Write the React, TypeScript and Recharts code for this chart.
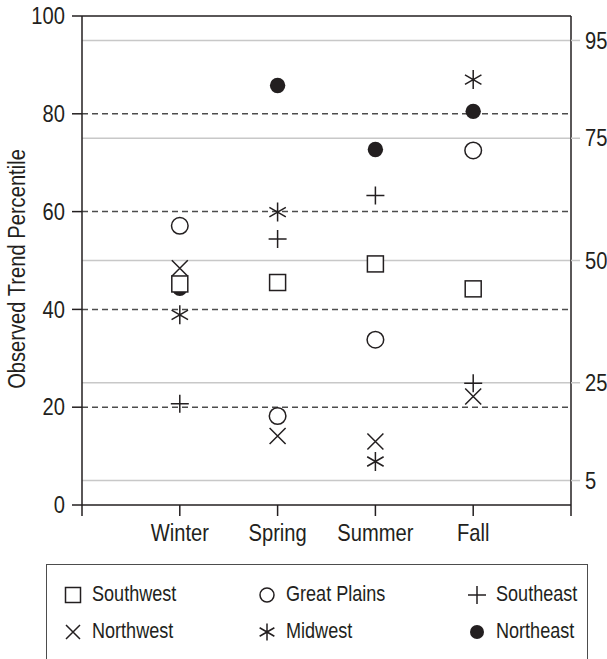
import React from "react"
import { ScatterChart, Scatter, XAxis, YAxis, ReferenceLine } from "recharts"

// seasons on the x axis (positions 1..4, axis runs 0..5)
const seasons = ["Winter", "Spring", "Summer", "Fall"]

// observed trend percentile per region, in season order
const southwest = [45.2, 45.5, 49.3, 44.2]
const greatPlains = [57.1, 18.2, 33.8, 72.5]
const southeast = [20.7, 54.4, 63.3, 24.9]
const northwest = [48.4, 14.1, 13.0, 22.2]
const midwest = [38.9, 59.9, 8.9, 87.0]
const northeast = [44.3, 85.8, 72.7, 80.5]

const leftTicks = [0, 20, 40, 60, 80, 100]
const dashedLevels = [20, 40, 60, 80]
const rightTicks = [5, 25, 50, 75, 95]

const INK = "#231f20"
const FONT = "'Liberation Sans', Arial, sans-serif"
// no narrow face installed, so squeeze the regular one
const NARROW = 0.84

type Kind = "square" | "circle" | "plus" | "x" | "asterisk" | "dot"

const Marker = ({ kind, cx, cy, s }: { kind: Kind; cx: number; cy: number; s: number }) => {
  const st = { stroke: INK, strokeWidth: 1.5, fill: "none" }
  switch (kind) {
    case "square":
      return <rect x={cx - s} y={cy - s} width={2 * s} height={2 * s} {...st} fill="#fff" />
    case "circle":
      return <circle cx={cx} cy={cy} r={s} {...st} />
    case "plus":
      return <path d={`M${cx - s},${cy}H${cx + s}M${cx},${cy - s}V${cy + s}`} {...st} />
    case "x":
      return <path d={`M${cx - s},${cy - s}L${cx + s},${cy + s}M${cx + s},${cy - s}L${cx - s},${cy + s}`} {...st} />
    case "asterisk": {
      const dx = s * Math.cos(Math.PI / 6)
      const dy = s * Math.sin(Math.PI / 6)
      return (
        <path
          d={`M${cx},${cy - s}V${cy + s}M${cx - dx},${cy - dy}L${cx + dx},${cy + dy}M${cx - dx},${cy + dy}L${cx + dx},${cy - dy}`}
          {...st}
        />
      )
    }
    case "dot":
      return <circle cx={cx} cy={cy} r={s} fill={INK} />
  }
  return null
}

// drawing order: southwest last so its white squares sit on top
const series: Array<{ name: string; values: number[]; kind: Kind; size: number; legendSize: number }> = [
  { name: "Northeast", values: northeast, kind: "dot", size: 7.7, legendSize: 7 },
  { name: "Northwest", values: northwest, kind: "x", size: 8, legendSize: 7 },
  { name: "Midwest", values: midwest, kind: "asterisk", size: 9.5, legendSize: 8.5 },
  { name: "Southeast", values: southeast, kind: "plus", size: 9, legendSize: 9 },
  { name: "Great Plains", values: greatPlains, kind: "circle", size: 8.3, legendSize: 7 },
  { name: "Southwest", values: southwest, kind: "square", size: 8, legendSize: 7.5 },
]

// legend layout: [name, column, row]
const legendOrder: Array<[string, number, number]> = [
  ["Southwest", 0, 0],
  ["Great Plains", 1, 0],
  ["Southeast", 2, 0],
  ["Northwest", 0, 1],
  ["Midwest", 1, 1],
  ["Northeast", 2, 1],
]
const colX = [73, 267, 477]
const rowY = [595, 632]

const NarrowText = ({ x, y, anchor, baseline, children }: any) => (
  <g transform={`translate(${x},${y})`}>
    <text
      transform={`scale(${NARROW},1)`}
      textAnchor={anchor}
      dominantBaseline={baseline}
      fill={INK}
      fontSize={24}
      fontFamily={FONT}
    >
      {children}
    </text>
  </g>
)

const XTick = (p: any) => (
  <NarrowText x={p.x} y={p.y + 17} anchor="middle" baseline="auto">
    {seasons[p.payload.value - 1] ?? ""}
  </NarrowText>
)
const LeftTick = (p: any) => (
  <NarrowText x={p.x} y={p.y} anchor="end" baseline="central">
    {p.payload.value}
  </NarrowText>
)
const RightTick = (p: any) => (
  <NarrowText x={p.x} y={p.y} anchor="start" baseline="central">
    {p.payload.value}
  </NarrowText>
)

export default function App() {
  const axisStroke = { stroke: INK, strokeWidth: 1.5 }

  return (
    <div style={{ position: "absolute", left: 0, top: 0, width: 607, height: 659, background: "#fff" }}>
      <ScatterChart width={607} height={550} margin={{ top: 16, right: 0, bottom: 0, left: 0 }}>
        <XAxis
          type="number"
          dataKey="x"
          domain={[0, 5]}
          ticks={[0, 1, 2, 3, 4, 5]}
          interval={0}
          height={45}
          axisLine={axisStroke}
          tickLine={axisStroke}
          tickSize={11}
          tickMargin={8}
          tick={XTick}
        />
        <YAxis
          yAxisId="left"
          type="number"
          dataKey="y"
          domain={[0, 100]}
          ticks={leftTicks}
          interval={0}
          width={82}
          axisLine={axisStroke}
          tickLine={axisStroke}
          tickSize={10}
          tickMargin={7}
          tick={LeftTick}
          label={{
            content: () => (
              <g transform="translate(17,269) rotate(-90)">
                <text
                  transform={`scale(${NARROW},1)`}
                  textAnchor="middle"
                  dominantBaseline="central"
                  fill={INK}
                  fontSize={24}
                  fontFamily={FONT}
                >
                  Observed Trend Percentile
                </text>
              </g>
            ),
          }}
        />
        <YAxis
          yAxisId="right"
          orientation="right"
          type="number"
          dataKey="y"
          domain={[0, 100]}
          allowDataOverflow
          ticks={rightTicks}
          interval={0}
          width={36}
          axisLine={axisStroke}
          tickLine={{ stroke: "#c8c8c8", strokeWidth: 1.5 }}
          tickSize={9}
          tickMargin={5}
          tick={RightTick}
        />
        {rightTicks.map((v) => (
          <ReferenceLine key={`g${v}`} yAxisId="left" y={v} stroke="#c8c8c8" strokeWidth={1.5} />
        ))}
        {dashedLevels.map((v) => (
          <ReferenceLine key={`d${v}`} yAxisId="left" y={v} stroke="#4d4d4d" strokeWidth={1.5} strokeDasharray="6 4" />
        ))}
        <ReferenceLine yAxisId="left" y={100} stroke={INK} strokeWidth={1.5} />
        {series.map((s) => (
          <Scatter
            key={s.name}
            name={s.name}
            yAxisId="left"
            data={s.values.map((v, i) => ({ x: i + 1, y: v }))}
            isAnimationActive={false}
            shape={(p: any) => <Marker kind={s.kind} cx={p.cx} cy={p.cy} s={s.size} />}
          />
        ))}
        {/* second reference to the right axis so it gets drawn */}
        <Scatter
          yAxisId="right"
          data={northeast.map((v, i) => ({ x: i + 1, y: v }))}
          isAnimationActive={false}
          shape={() => <g />}
        />
      </ScatterChart>

      <div
        style={{
          position: "absolute",
          left: 46,
          top: 564,
          width: 542,
          height: 110,
          border: `1.5px solid #4d4d4d`,
          boxSizing: "border-box",
        }}
      />
      {legendOrder.map(([name, c, r]) => {
        const s = series.find((d) => d.name === name)!
        return (
          <div key={name}>
            <svg
              width={24}
              height={24}
              style={{ position: "absolute", left: colX[c] - 12, top: rowY[r] - 12 }}
            >
              <Marker kind={s.kind} cx={12} cy={12} s={s.legendSize} />
            </svg>
            <span
              style={{
                position: "absolute",
                left: colX[c] + 19,
                top: rowY[r] - 14,
                fontFamily: FONT,
                fontSize: 21.5,
                lineHeight: "26px",
                color: INK,
                whiteSpace: "nowrap",
                transform: `scaleX(${NARROW})`,
                transformOrigin: "left center",
              }}
            >
              {name}
            </span>
          </div>
        )
      })}
    </div>
  )
}
